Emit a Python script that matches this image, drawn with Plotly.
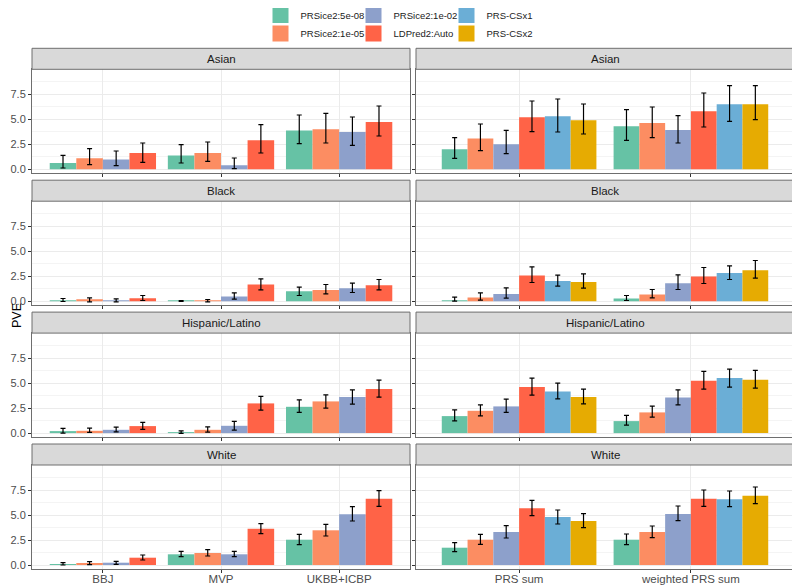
import plotly.graph_objects as go

# ---------------- data ----------------
methods = ["PRSice2:5e-08", "PRSice2:1e-05", "PRSice2:1e-02", "LDPred2:Auto", "PRS-CSx1", "PRS-CSx2"]
method_colors = ["#66C2A5", "#FC8D62", "#8DA0CB", "#FF6347", "#6BAED6", "#E6AB02"]
ancestries = ["Asian", "Black", "Hispanic/Latino", "White"]
cohort_categories = ["BBJ", "MVP", "UKBB+ICBP"]
combined_categories = ["PRS sum", "weighted PRS sum"]
y_tick_values = [0, 2.5, 5, 7.5]
y_tick_labels = ["0.0", "2.5", "5.0", "7.5"]

# cohort panels: one row per method (first 4 methods), one value per cohort
asian_cohort_pve = [[0.63, 1.37, 3.87], [1.10, 1.63, 4.00], [0.97, 0.40, 3.73], [1.63, 2.90, 4.73]]
asian_cohort_lo = [[0.13, 0.63, 2.57], [0.47, 0.80, 2.63], [0.37, 0.07, 2.40], [0.70, 1.63, 3.33]]
asian_cohort_hi = [[1.40, 2.47, 5.43], [2.07, 2.73, 5.60], [1.83, 1.13, 5.23], [2.63, 4.47, 6.33]]

black_cohort_pve = [[0.10, 0.02, 1.00], [0.13, 0.05, 1.13], [0.07, 0.47, 1.30], [0.30, 1.67, 1.60]]
black_cohort_lo = [[-0.03, -0.02, 0.57], [-0.07, -0.07, 0.73], [-0.07, 0.20, 0.87], [0.07, 1.13, 1.13]]
black_cohort_hi = [[0.27, 0.07, 1.40], [0.33, 0.17, 1.67], [0.23, 0.83, 1.80], [0.57, 2.23, 2.17]]

hispanic_cohort_pve = [[0.20, 0.07, 2.63], [0.23, 0.33, 3.17], [0.33, 0.73, 3.60], [0.70, 2.97, 4.40]]
hispanic_cohort_lo = [[0.00, -0.03, 2.07], [0.07, 0.10, 2.50], [0.13, 0.30, 2.90], [0.37, 2.30, 3.60]]
hispanic_cohort_hi = [[0.47, 0.23, 3.33], [0.50, 0.63, 3.83], [0.60, 1.17, 4.33], [1.07, 3.67, 5.30]]

white_cohort_pve = [[0.10, 1.07, 2.53], [0.17, 1.20, 3.47], [0.23, 1.07, 5.07], [0.73, 3.63, 6.63]]
white_cohort_lo = [[0.00, 0.83, 2.03], [0.03, 0.90, 2.90], [0.07, 0.83, 4.40], [0.50, 3.13, 5.87]]
white_cohort_hi = [[0.23, 1.37, 3.07], [0.33, 1.53, 4.07], [0.37, 1.37, 5.83], [1.00, 4.13, 7.43]]

# combined panels: one row per method (all 6), values for PRS sum / weighted PRS sum
asian_combined_pve = [[2.00, 4.30], [3.07, 4.63], [2.50, 3.93], [5.20, 5.80], [5.30, 6.50], [4.90, 6.50]]
asian_combined_lo = [[1.10, 2.90], [1.87, 3.17], [1.57, 2.63], [3.77, 4.23], [3.73, 4.80], [3.53, 4.97]]
asian_combined_hi = [[3.17, 5.97], [4.53, 6.23], [3.90, 5.37], [6.83, 7.63], [7.03, 8.37], [6.53, 8.37]]

black_combined_pve = [[0.10, 0.27], [0.37, 0.67], [0.73, 1.80], [2.57, 2.47], [2.03, 2.83], [1.93, 3.10]]
black_combined_lo = [[0.00, 0.07], [0.10, 0.33], [0.30, 1.17], [1.87, 1.77], [1.50, 2.17], [1.30, 2.30]]
black_combined_hi = [[0.40, 0.57], [0.83, 1.17], [1.33, 2.63], [3.43, 3.37], [2.60, 3.53], [2.73, 4.07]]

hispanic_combined_pve = [[1.70, 1.20], [2.23, 2.07], [2.67, 3.57], [4.60, 5.23], [4.17, 5.50], [3.60, 5.33]]
hispanic_combined_lo = [[1.23, 0.80], [1.73, 1.60], [2.07, 2.83], [3.80, 4.40], [3.43, 4.60], [2.93, 4.50]]
hispanic_combined_hi = [[2.33, 1.77], [2.83, 2.70], [3.40, 4.33], [5.50, 6.17], [5.00, 6.40], [4.40, 6.27]]

white_combined_pve = [[1.73, 2.53], [2.53, 3.30], [3.30, 5.10], [5.67, 6.63], [4.80, 6.57], [4.40, 6.93]]
white_combined_lo = [[1.33, 2.03], [2.07, 2.73], [2.70, 4.43], [4.93, 5.87], [4.10, 5.83], [3.73, 6.13]]
white_combined_hi = [[2.23, 3.10], [3.07, 3.90], [3.93, 5.90], [6.47, 7.50], [5.50, 7.40], [5.13, 7.80]]

panels = [
    (asian_cohort_pve, asian_cohort_lo, asian_cohort_hi, asian_combined_pve, asian_combined_lo, asian_combined_hi),
    (black_cohort_pve, black_cohort_lo, black_cohort_hi, black_combined_pve, black_combined_lo, black_combined_hi),
    (hispanic_cohort_pve, hispanic_cohort_lo, hispanic_cohort_hi, hispanic_combined_pve, hispanic_combined_lo, hispanic_combined_hi),
    (white_cohort_pve, white_cohort_lo, white_cohort_hi, white_combined_pve, white_combined_lo, white_combined_hi),
]

# ---------------- layout geometry (window pixels) ----------------
W, H = 800, 587
OFF = 8  # the page body offsets the figure by 8 px; geometry below is in window pixels
col_x = [(32, 410), (416, 794)]
strip_top0, row_period, strip_h, panel_h = 48.3, 131.9, 21, 104
border_col = "#6E6E6E"
font_family = "Liberation Sans, Arial, sans-serif"


def px(x):
    return (x - OFF) / W


def py(y):
    return 1 - (y - OFF) / H


fig = go.Figure()
layout = dict(
    width=W, height=H, margin=dict(l=0, r=0, t=0, b=0, autoexpand=False),
    plot_bgcolor="white", paper_bgcolor="white",
    barmode="group", bargap=0.1, bargroupgap=0,
    font=dict(family=font_family, color="#1A1A1A"),
    showlegend=True,
)
shapes, annotations = [], []

for r, anc in enumerate(ancestries):
    strip_top = strip_top0 + row_period * r
    p_top = strip_top + strip_h
    p_bot = p_top + panel_h
    for c in range(2):
        k = r * 2 + c + 1
        xn = "x" if k == 1 else f"x{k}"
        yn = "y" if k == 1 else f"y{k}"
        xa = "xaxis" if k == 1 else f"xaxis{k}"
        ya = "yaxis" if k == 1 else f"yaxis{k}"
        x0, x1 = col_x[c]
        cats = cohort_categories if c == 0 else combined_categories
        pve, lo, hi = (panels[r][0:3] if c == 0 else panels[r][3:6])
        for m, vals in enumerate(pve):
            fig.add_trace(go.Bar(
                x=cats, y=vals, xaxis=xn, yaxis=yn,
                marker=dict(color=method_colors[m], line=dict(width=0)),
                name=methods[m], showlegend=False,
                error_y=dict(type="data", symmetric=False,
                             array=[h - v for h, v in zip(hi[m], vals)],
                             arrayminus=[v - l for v, l in zip(vals, lo[m])],
                             color="black", thickness=1.2, width=2.5),
            ))
        layout[xa] = dict(
            domain=[px(x0), px(x1)], anchor=yn,
            type="category", range=[-0.6, len(cats) - 0.4],
            showgrid=True, gridcolor="#EBEBEB", gridwidth=1,
            showline=True, mirror=True, linecolor=border_col, linewidth=1,
            ticks="outside", ticklen=3, tickcolor="#333333",
            showticklabels=(r == 3), ticklabelstandoff=-4,
            tickfont=dict(size=11.5, color="#4D4D4D", family=font_family),
            zeroline=False, automargin=False,
        )
        layout[ya] = dict(
            domain=[py(p_bot), py(p_top)], anchor=xn,
            range=[-0.4, 10.0],
            tickvals=y_tick_values, ticktext=y_tick_labels,
            showgrid=True, gridcolor="#EBEBEB", gridwidth=1,
            minor=dict(tickvals=[1.25, 3.75, 6.25, 8.75], showgrid=True,
                       gridcolor="#F4F4F4", gridwidth=0.6, ticklen=0),
            showline=True, mirror=True, linecolor=border_col, linewidth=1,
            ticks="outside", ticklen=3, tickcolor="#333333",
            showticklabels=(c == 0),
            tickfont=dict(size=11, color="#4D4D4D", family=font_family),
            zeroline=False, automargin=False, fixedrange=True,
        )
        # facet strip
        shapes.append(dict(type="rect", xref="paper", yref="paper",
                           x0=px(x0), x1=px(x1), y0=py(p_top), y1=py(strip_top),
                           fillcolor="#D9D9D9", line=dict(color=border_col, width=1)))
        annotations.append(dict(text=anc, xref="paper", yref="paper",
                                x=px((x0 + x1) / 2), y=py(strip_top + strip_h / 2),
                                showarrow=False, xanchor="center", yanchor="middle",
                                font=dict(size=11.5, color="#1A1A1A", family=font_family)))

annotations.append(dict(text="PVE", xref="paper", yref="paper", x=0.0, y=py(316),
                        textangle=-90, showarrow=False, xanchor="left", yanchor="middle",
                        font=dict(size=12.5, color="#000000", family=font_family)))

# legend: two horizontal rows of three entries (column-major order as in the reference)
legend_rows = {"legend": [0, 2, 4], "legend2": [1, 3, 5]}
legend_row_y = {"legend": 15, "legend2": 33.5}
for ln, idxs in legend_rows.items():
    for m in idxs:
        fig.add_trace(go.Scatter(
            x=[None], y=[None], mode="markers", name=methods[m],
            marker=dict(symbol="square", size=16, color=method_colors[m]),
            legend=ln, showlegend=True,
        ))
    layout[ln] = dict(
        x=px(260.5), y=py(legend_row_y[ln]), xanchor="left", yanchor="middle",
        xref="paper", yref="paper",
        orientation="h", entrywidth=48, entrywidthmode="pixels",
        bgcolor="rgba(0,0,0,0)", borderwidth=0,
        font=dict(size=9.5, color="#1A1A1A", family=font_family),
        tracegroupgap=0,
    )

layout["shapes"] = shapes
layout["annotations"] = annotations
fig.update_layout(**layout)
fig.write_html("out.html")
